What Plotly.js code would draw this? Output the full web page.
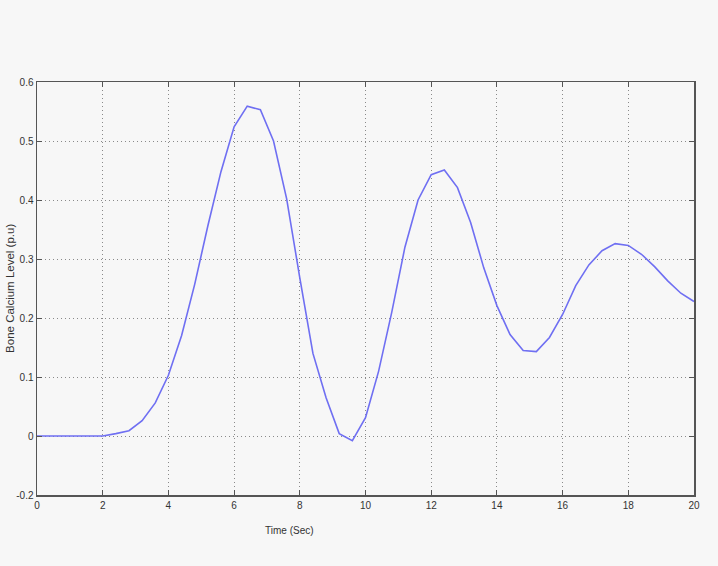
<!DOCTYPE html>
<html>
<head>
<meta charset="utf-8">
<script src="https://cdn.plot.ly/plotly-3.0.1.min.js"></script>
<style>html,body{margin:0;padding:0;background:#f7f7f7;}#chart{width:718px;height:566px;}</style>
</head>
<body>
<div id="chart"></div>
<script>
// Time (Sec)
const timeSec = [0, 0.4, 0.8, 1.2, 1.6, 2.0, 2.4, 2.8, 3.2, 3.6, 4.0, 4.4, 4.8, 5.2, 5.6, 6.0,
  6.4, 6.8, 7.2, 7.6, 8.0, 8.4, 8.8, 9.2, 9.6, 10.0, 10.4, 10.8, 11.2, 11.6, 12.0,
  12.4, 12.8, 13.2, 13.6, 14.0, 14.4, 14.8, 15.2, 15.6, 16.0, 16.4, 16.8, 17.2, 17.6,
  18.0, 18.4, 18.8, 19.2, 19.6, 20.0];
// Bone Calcium Level (p.u)
const boneCalcium = [0, 0, 0, 0, 0, 0, 0.004, 0.009, 0.026, 0.056, 0.103, 0.170, 0.257, 0.356, 0.448, 0.524,
  0.559, 0.553, 0.500, 0.402, 0.268, 0.140, 0.065, 0.004, -0.008, 0.031, 0.110, 0.210, 0.320, 0.400, 0.443,
  0.451, 0.421, 0.362, 0.285, 0.221, 0.172, 0.145, 0.143, 0.167, 0.206, 0.255, 0.290, 0.314, 0.326,
  0.323, 0.308, 0.287, 0.263, 0.242, 0.228];
const xTickVals = [0, 2, 4, 6, 8, 10, 12, 14, 16, 18, 20];
const yTickVals = [-0.1, 0, 0.1, 0.2, 0.3, 0.4, 0.5, 0.6];
const yTickText = ['-0.2', '0', '0.1', '0.2', '0.3', '0.4', '0.5', '0.6'];

const font = {family: 'Liberation Sans, Arial, sans-serif', size: 10, color: '#333'};
const titleFont = {family: 'Liberation Sans, Arial, sans-serif', size: 11.5, color: '#333'};
const axisCommon = {
  showline: true, linecolor: '#555', linewidth: 1.5, mirror: 'allticks',
  ticks: 'inside', ticklen: 5, tickcolor: '#555', tickwidth: 1,
  showgrid: true, gridcolor: '#8a8a8a', griddash: '1px,3px', gridwidth: 1,
  zeroline: false, tickfont: font
};
Plotly.newPlot('chart', [{
  x: timeSec, y: boneCalcium, type: 'scatter', mode: 'lines',
  line: {color: '#6f6ff2', width: 1.6}, hoverinfo: 'skip'
}], {
  width: 718, height: 566,
  margin: {l: 37, r: 24, t: 82, b: 71},
  paper_bgcolor: '#f7f7f7', plot_bgcolor: '#f7f7f7',
  showlegend: false,
  xaxis: Object.assign({}, axisCommon, {range: [0, 20], tickvals: xTickVals, ticktext: xTickVals.map(String)}),
  yaxis: Object.assign({}, axisCommon, {range: [-0.1, 0.6], tickvals: yTickVals, ticktext: yTickText}),
  annotations: [{
    text: 'Time (Sec)', xref: 'paper', yref: 'paper', x: 0.384, y: -0.085,
    xanchor: 'center', yanchor: 'middle', showarrow: false, font: font
  }, {
    text: 'Bone Calcium Level (p.u)', xref: 'paper', yref: 'paper', x: -0.042, y: 0.5,
    xanchor: 'center', yanchor: 'middle', textangle: -90, showarrow: false, font: titleFont
  }]
}, {staticPlot: true});
</script>
</body>
</html>
